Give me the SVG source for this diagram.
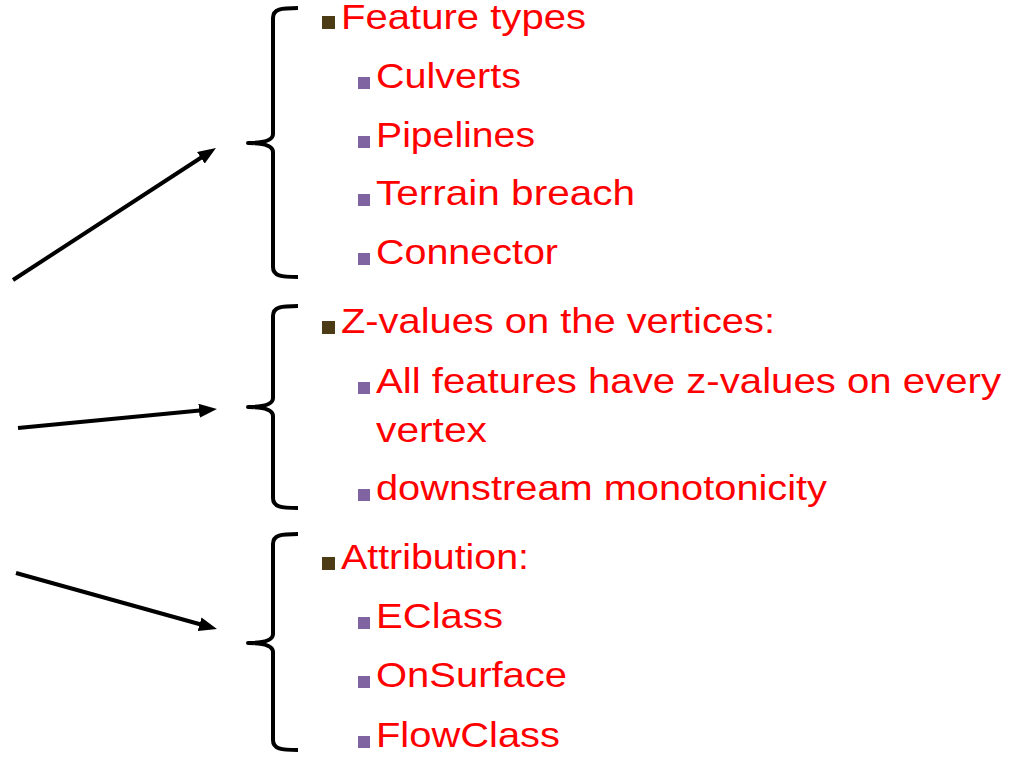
<svg xmlns="http://www.w3.org/2000/svg" width="1013" height="757" viewBox="0 0 1013 757">
<defs>
<style>
.t{font-family:"Liberation Sans",Arial,sans-serif;font-size:35px;fill:#FF0000}
.b1{fill:#4B3C16}
.b2{fill:#8064A2}
.br{fill:none;stroke:#000;stroke-width:4;stroke-linejoin:round}
.ar{fill:none;stroke:#000;stroke-width:4;marker-end:url(#ah)}
</style>
<marker id="ah" viewBox="0 0 18 14" refX="6" refY="7" markerWidth="18" markerHeight="14" orient="auto" markerUnits="userSpaceOnUse">
<path d="M0,0 L18,7 L0,14 z" fill="#000"/>
</marker>
</defs>
<rect width="1013" height="757" fill="#fff"/>
<g id="connectors">
<line class="ar" x1="13" y1="280" x2="205.9" y2="154.5"/>
<line class="ar" x1="18" y1="428" x2="205" y2="410.1"/>
<line class="ar" x1="16" y1="573" x2="205.4" y2="625.8"/>
</g>
<g id="group1">
<path class="br" d="M298,8 C281,8 273,9 273,18 L273,134 C273,140 266,143 248,143 C266,143 273,146 273,152 L273,267 C273,276 281,277 298,277"/>
<rect class="b1" x="322" y="16" width="13" height="13"/>
<text class="t" x="341" y="29" textLength="245" lengthAdjust="spacingAndGlyphs">Feature types</text>
<rect class="b2" x="358" y="77" width="12" height="12"/>
<text class="t" x="376" y="88" textLength="145" lengthAdjust="spacingAndGlyphs">Culverts</text>
<rect class="b2" x="358" y="136" width="12" height="12"/>
<text class="t" x="376" y="147" textLength="159" lengthAdjust="spacingAndGlyphs">Pipelines</text>
<rect class="b2" x="358" y="194" width="12" height="12"/>
<text class="t" x="376" y="205" textLength="259" lengthAdjust="spacingAndGlyphs">Terrain breach</text>
<rect class="b2" x="358" y="253" width="12" height="12"/>
<text class="t" x="376" y="264" textLength="182" lengthAdjust="spacingAndGlyphs">Connector</text>
</g>
<g id="group2">
<path class="br" d="M298,306 C281,306 273,307 273,316 L273,398 C273,404 266,407 248,407 C266,407 273,410 273,416 L273,498 C273,507 281,508 298,508"/>
<rect class="b1" x="322" y="321" width="13" height="13"/>
<text class="t" x="341" y="333" textLength="434" lengthAdjust="spacingAndGlyphs">Z-values on the vertices:</text>
<rect class="b2" x="358" y="382" width="12" height="12"/>
<text class="t" x="376" y="393" textLength="625" lengthAdjust="spacingAndGlyphs">All features have z-values on every</text>
<text class="t" x="376" y="442" textLength="111" lengthAdjust="spacingAndGlyphs">vertex</text>
<rect class="b2" x="358" y="489" width="12" height="12"/>
<text class="t" x="376" y="500" textLength="451" lengthAdjust="spacingAndGlyphs">downstream monotonicity</text>
</g>
<g id="group3">
<path class="br" d="M298,534 C281,534 273,535 273,544 L273,634 C273,640 266,643 248,643 C266,643 273,646 273,652 L273,740 C273,749 281,750 298,750"/>
<rect class="b1" x="322" y="557" width="13" height="13"/>
<text class="t" x="341" y="569" textLength="188" lengthAdjust="spacingAndGlyphs">Attribution:</text>
<rect class="b2" x="358" y="617" width="12" height="12"/>
<text class="t" x="376" y="628" textLength="127" lengthAdjust="spacingAndGlyphs">EClass</text>
<rect class="b2" x="358" y="676" width="12" height="12"/>
<text class="t" x="376" y="687" textLength="191" lengthAdjust="spacingAndGlyphs">OnSurface</text>
<rect class="b2" x="358" y="736" width="12" height="12"/>
<text class="t" x="376" y="747" textLength="184" lengthAdjust="spacingAndGlyphs">FlowClass</text>
</g>
</svg>
